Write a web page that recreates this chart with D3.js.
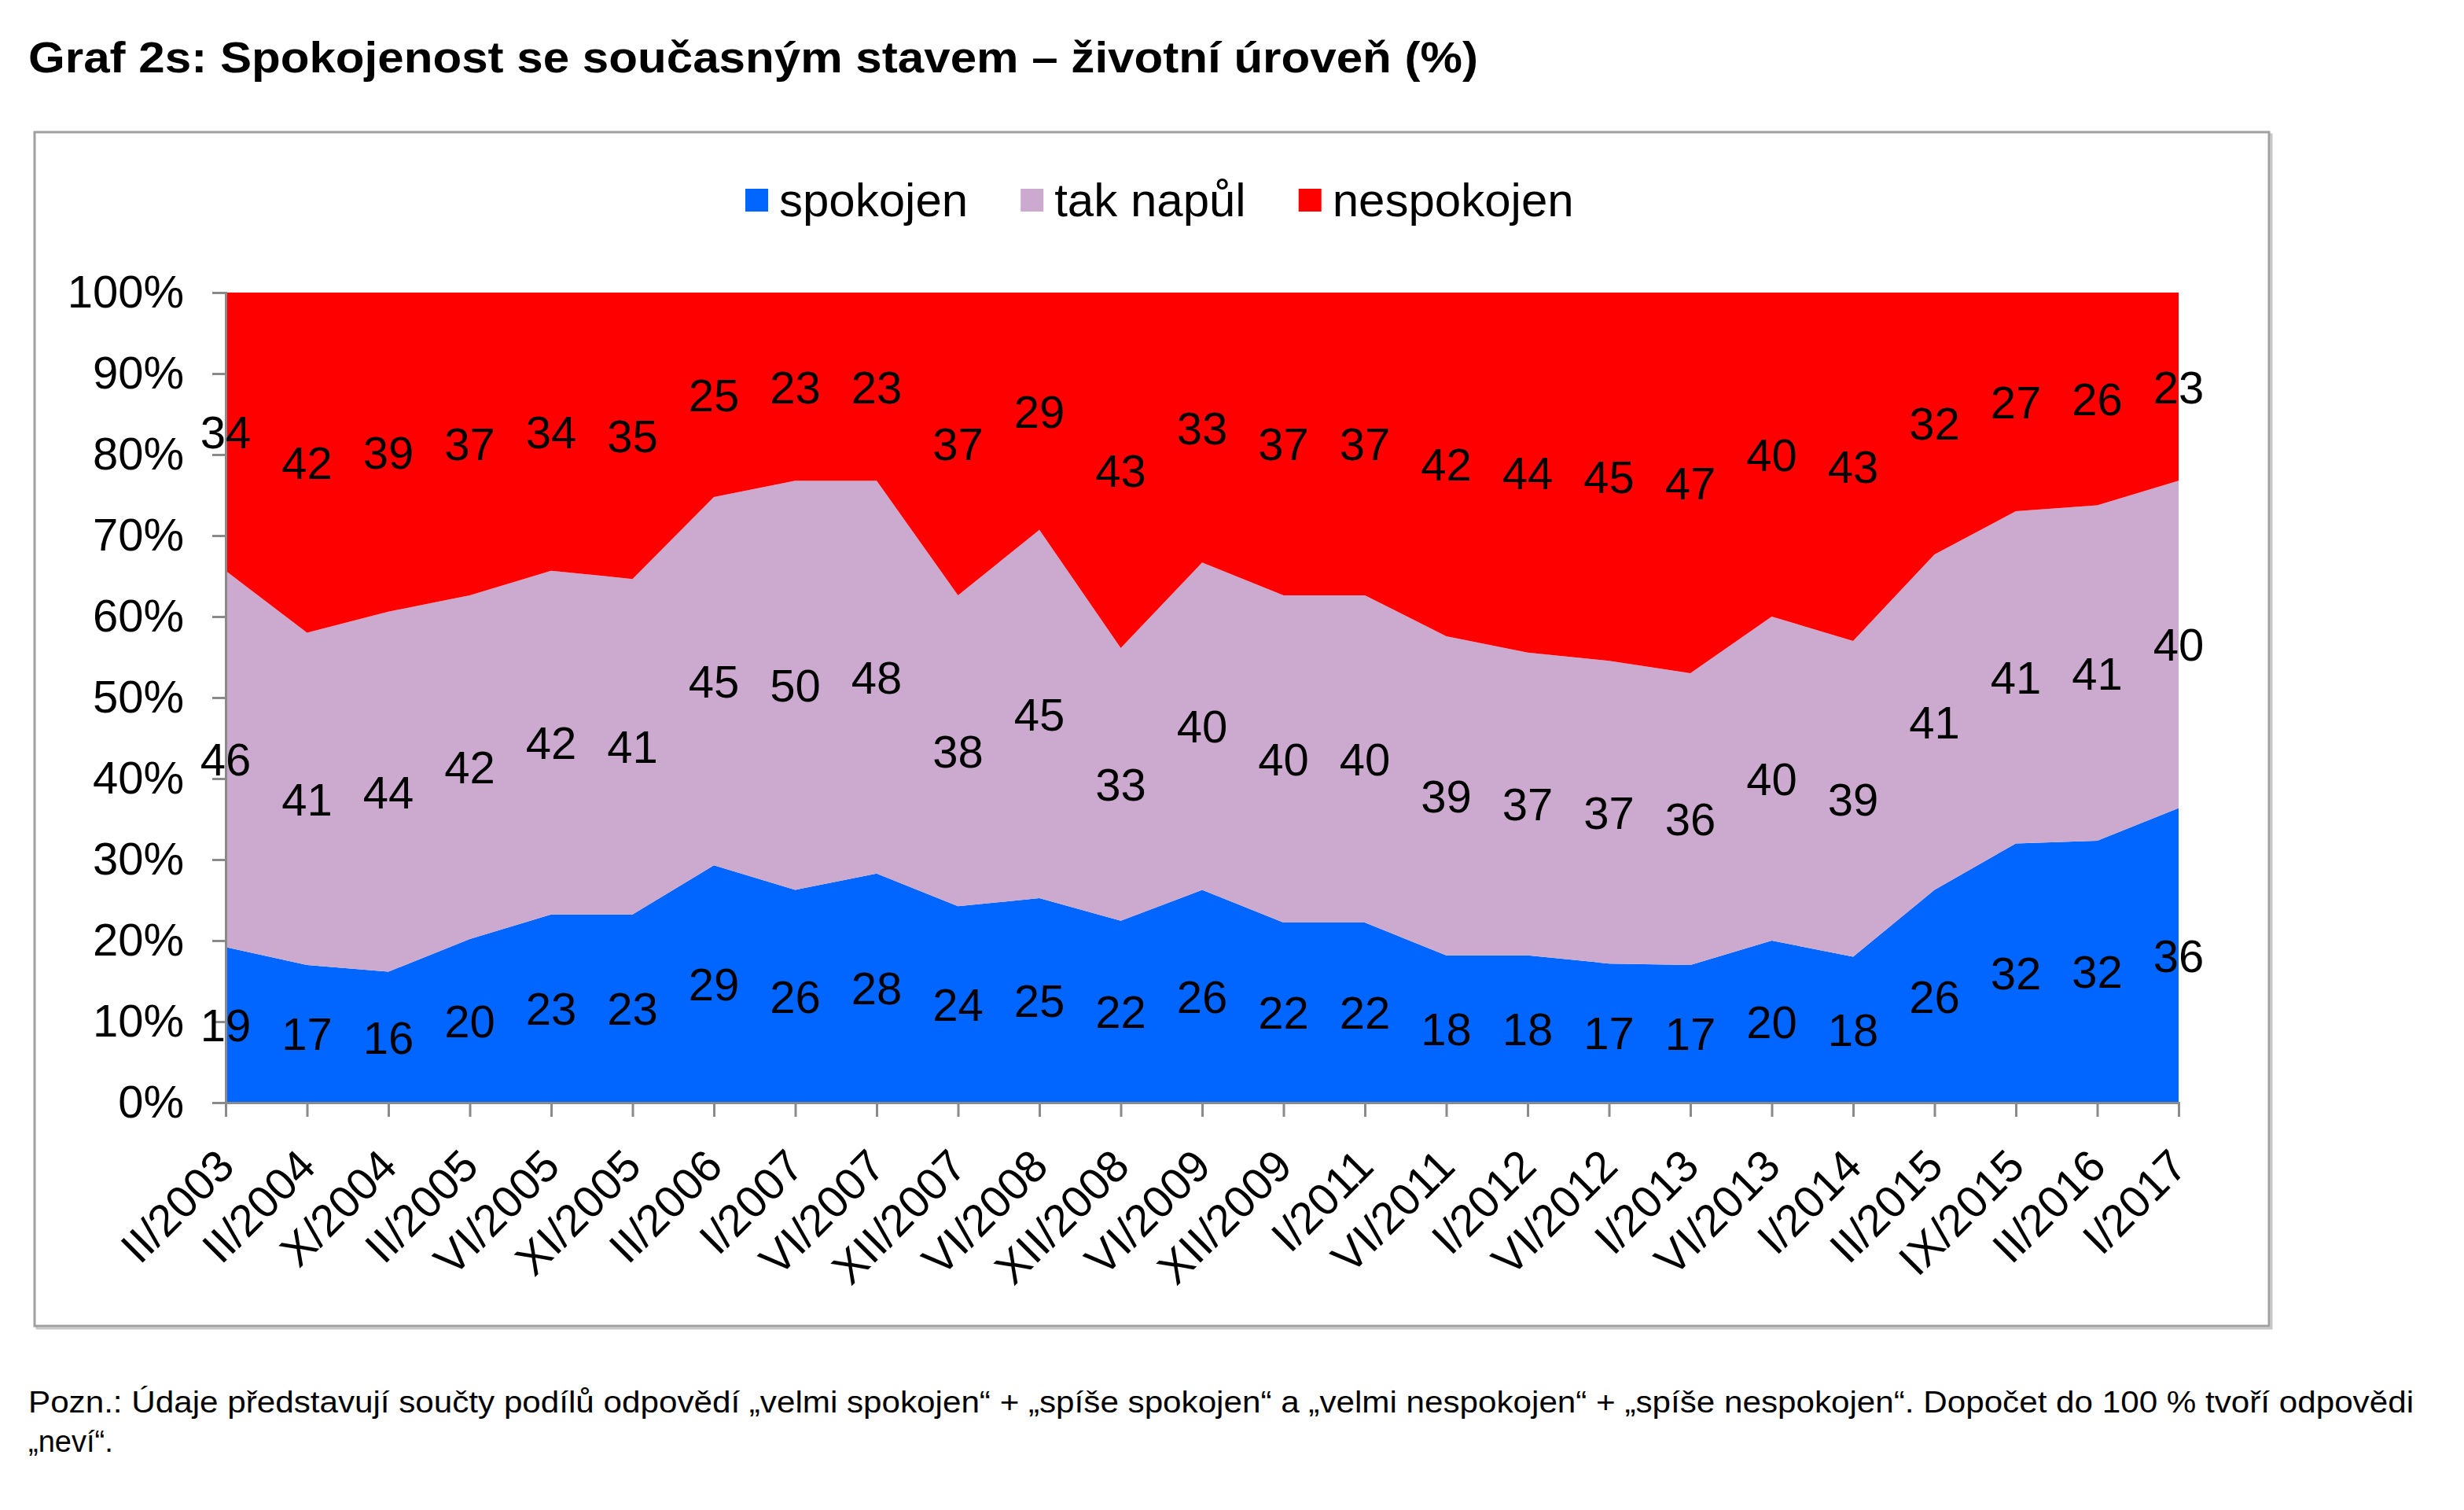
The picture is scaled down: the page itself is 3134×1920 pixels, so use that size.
<!DOCTYPE html>
<html>
<head>
<meta charset="utf-8">
<script src="https://cdn.jsdelivr.net/npm/d3@7"></script>
<style>
  html, body { margin: 0; padding: 0; background: #fff; }
  svg { display: block; }
  text { font-family: "Liberation Sans", Arial, sans-serif; fill: #000; }
</style>
</head>
<body>
<svg id="chart" width="3134" height="1920"></svg>
<script>
const categories = ["II/2003","II/2004","X/2004","II/2005","VI/2005","XI/2005","II/2006","I/2007","VI/2007","XII/2007","VI/2008","XII/2008","VI/2009","XII/2009","I/2011","VI/2011","I/2012","VI/2012","I/2013","VI/2013","I/2014","II/2015","IX/2015","II/2016","I/2017"];
const spokojen   = [19,17,16,20,23,23,29,26,28,24,25,22,26,22,22,18,18,17,17,20,18,26,32,32,36];
const takNapul   = [46,41,44,42,42,41,45,50,48,38,45,33,40,40,40,39,37,37,36,40,39,41,41,41,40];
const nespokojen = [34,42,39,37,34,35,25,23,23,37,29,43,33,37,37,42,44,45,47,40,43,32,27,26,23];
const seriesNames = ["spokojen","tak napůl","nespokojen"];
const yTicks = [0,0.1,0.2,0.3,0.4,0.5,0.6,0.7,0.8,0.9,1.0];
const titleText = "Graf 2s: Spokojenost se současným stavem – životní úroveň (%)";
const noteLine1 = "Pozn.: Údaje představují součty podílů odpovědí „velmi spokojen“ + „spíše spokojen“ a „velmi nespokojen“ + „spíše nespokojen“. Dopočet do 100 % tvoří odpovědi";
const noteLine2 = "„neví“.";

const colors = {"spokojen":"#0066ff","tak napůl":"#ccaacf","nespokojen":"#ff0000"};

const table = categories.map((c,i) => ({cat:c, "spokojen":spokojen[i], "tak napůl":takNapul[i], "nespokojen":nespokojen[i]}));

const svg = d3.select("#chart");
const plot = {left:287, right:2771, top:372, bottom:1402};

// Title
svg.append("text").attr("x",36).attr("y",92)
  .attr("font-size",55).attr("font-weight","bold")
  .attr("textLength",1844).attr("lengthAdjust","spacingAndGlyphs")
  .text(titleText);

// Outer frame with slight shadow
svg.append("rect").attr("x",47).attr("y",171).attr("width",2842).attr("height",1518)
  .attr("fill","none").attr("stroke","#c8c8c8").attr("stroke-width",3);
svg.append("rect").attr("x",44).attr("y",168).attr("width",2842).attr("height",1518)
  .attr("fill","#fff").attr("stroke","#a0a0a0").attr("stroke-width",3);

const x = d3.scalePoint().domain(categories).range([plot.left, plot.right]);
const y = d3.scaleLinear().domain([0,1]).range([plot.bottom, plot.top]);

const stack = d3.stack().keys(seriesNames).offset(d3.stackOffsetExpand);
const stacked = stack(table);

const area = d3.area()
  .x(d => x(d.data.cat))
  .y0(d => y(d[0]))
  .y1(d => y(d[1]));

svg.append("g").selectAll("path").data(stacked).join("path")
  .attr("d", area)
  .attr("fill", d => colors[d.key]);

// Y axis
const yAxis = d3.axisLeft(y).tickValues(yTicks).tickFormat(d3.format(".0%"))
  .tickSize(17).tickPadding(36);
const gy = svg.append("g").attr("transform",`translate(${plot.left},0)`).call(yAxis);
gy.select(".domain").attr("stroke","#8a8a8a").attr("stroke-width",3);
gy.selectAll(".tick line").attr("stroke","#8a8a8a").attr("stroke-width",3);
gy.selectAll(".tick text").attr("font-size",58).attr("font-family","Liberation Sans, Arial, sans-serif").attr("fill","#000");

// X axis
const xAxis = d3.axisBottom(x).tickSize(18).tickFormat("");
const gx = svg.append("g").attr("transform",`translate(0,${plot.bottom})`).call(xAxis);
gx.select(".domain").attr("stroke","#8a8a8a").attr("stroke-width",3);
gx.selectAll(".tick line").attr("stroke","#8a8a8a").attr("stroke-width",3);

svg.append("g").selectAll("text").data(categories).join("text")
  .attr("transform", d => `translate(${x(d)+14},${plot.bottom+84}) rotate(-45)`)
  .attr("text-anchor","end")
  .attr("font-size",57)
  .text(d => d);

// Data labels centred in bands
const labels = [];
stacked.forEach(s => s.forEach((d,i) => labels.push({x:x(d.data.cat), y:y((d[0]+d[1])/2), v:d.data[s.key]})));
svg.append("g").selectAll("text").data(labels).join("text")
  .attr("x", d => d.x).attr("y", d => d.y)
  .attr("text-anchor","middle").attr("dy","0.36em")
  .attr("font-size",58)
  .text(d => d.v);

// Legend
const lg = svg.append("g");
let lx = 948;
seriesNames.forEach(n => {
  lg.append("rect").attr("x",lx).attr("y",240).attr("width",29).attr("height",29).attr("fill",colors[n]);
  const t = lg.append("text").attr("x",lx+43).attr("y",275).attr("font-size",60).text(n);
  lx += 43 + t.node().getComputedTextLength() + 67;
});

// Footnote
svg.append("text").attr("x",36).attr("y",1796).attr("font-size",38)
  .attr("textLength",3034).attr("lengthAdjust","spacingAndGlyphs").text(noteLine1);
svg.append("text").attr("x",36).attr("y",1846).attr("font-size",38).text(noteLine2);
</script>
</body>
</html>
